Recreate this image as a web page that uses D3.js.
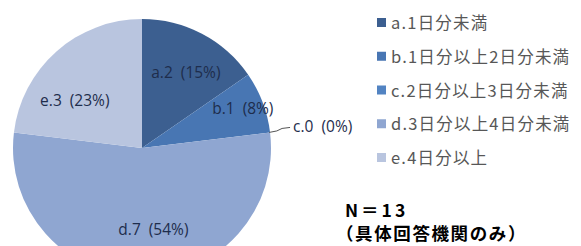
<!DOCTYPE html>
<html>
<head>
<meta charset="utf-8">
<script src="https://cdn.jsdelivr.net/npm/d3@7"></script>
<style>
  body { margin: 0; background: #fff; }
  svg { display: block; }
</style>
</head>
<body>
<div id="graph"></div>
<script>
// chart data
var keys = ["a", "b", "c", "d", "e"];
var counts = [2, 1, 0, 7, 3];
var legendLabels = ["a.1日分未満", "b.1日分以上2日分未満", "c.2日分以上3日分未満", "d.3日分以上4日分未満", "e.4日分以上"];
var colors = ["#3c5f90", "#4876b3", "#5283c2", "#8fa6d1", "#b9c5df"];
var noteLines = ["N＝13", "（具体回答機関のみ）"];

var width = 581, height = 246;
var cx = 142, cy = 148, radius = 129;

var svg = d3.select("#graph")
  .append("svg")
    .attr("width", width)
    .attr("height", height);

var total = d3.sum(counts);
var data = keys.map(function(k, i) {
  return {key: k, value: counts[i], color: colors[i]};
});

var pie = d3.pie()
  .sort(null)
  .value(function(d) { return d.value; });
var arcs = pie(data);

var arc = d3.arc().innerRadius(0).outerRadius(radius);

var g = svg.append("g")
  .attr("transform", "translate(" + cx + "," + cy + ")");

g.selectAll("path")
  .data(arcs)
  .enter()
  .append("path")
    .attr("d", arc)
    .attr("fill", function(d) { return d.data.color; })
    .attr("stroke", "none");

// label placement: angle (deg, clockwise from top) and fraction of radius
var labelPlace = {a: [30, 0.68], b: [68.5, 0.84], d: [172, 0.635], e: [305.5, 0.64]};
var labelFont = "'Open Sans', sans-serif";
function labelText(d) {
  var pct = Math.round(d.data.value / total * 100);
  return d.data.key + "." + d.data.value + "\u00a0\u00a0(" + pct + "%)";
}

arcs.forEach(function(d) {
  if (d.data.value === 0) return;
  var p = labelPlace[d.data.key];
  var ang = p[0] * Math.PI / 180, r = radius * p[1];
  g.append("text")
    .attr("x", Math.sin(ang) * r)
    .attr("y", -Math.cos(ang) * r)
    .attr("text-anchor", "middle")
    .attr("dominant-baseline", "central")
    .style("font-family", labelFont)
    .style("font-size", "15.5px")
    .style("fill", "#1e2d4c")
    .text(labelText(d));
});

// zero slice label with leader line
var zero = arcs[2];
var za = zero.startAngle;
var ex = Math.sin(za) * radius, ey = -Math.cos(za) * radius;
g.append("path")
  .attr("d", "M" + (ex - 1) + "," + ey + " Q" + (ex + 8) + "," + (ey - 1) + " " + (ex + 12) + "," + (ey - 4) + " L" + (ex + 20) + "," + (ey - 5))
  .attr("fill", "none")
  .attr("stroke", "#555")
  .attr("stroke-width", 1);
g.append("text")
  .attr("x", ex + 23)
  .attr("y", ey - 6)
  .attr("dominant-baseline", "central")
  .style("font-family", labelFont)
  .style("font-size", "15.5px")
  .style("fill", "#1e2d4c")
  .text(labelText(zero));

// legend
var legend = svg.append("g").attr("transform", "translate(377,22)");
var rowY = d3.scalePoint().domain(keys).range([0, 135]);
var row = legend.selectAll("g")
  .data(data)
  .enter()
  .append("g")
    .attr("transform", function(d) { return "translate(0," + rowY(d.key) + ")"; });
row.append("rect")
  .attr("x", 0)
  .attr("y", -4)
  .attr("width", 9)
  .attr("height", 9)
  .attr("fill", function(d) { return d.color; });
row.append("text")
  .attr("x", 14)
  .attr("y", 0)
  .attr("dominant-baseline", "central")
  .style("font-family", "'Noto Sans CJK JP', sans-serif")
  .style("font-size", "16.5px")
  .style("letter-spacing", "1.2px")
  .style("fill", "#575757")
  .text(function(d, i) { return legendLabels[i]; });

// sample note
svg.selectAll(".note")
  .data(noteLines)
  .enter()
  .append("text")
    .attr("class", "note")
    .attr("x", function(d, i) { return i === 0 ? 345 : 336; })
    .attr("y", function(d, i) { return 209 + i * 23; })
    .attr("dominant-baseline", "central")
    .style("font-family", "'Noto Sans CJK JP', sans-serif")
    .style("font-weight", "bold")
    .style("font-size", "17.5px")
    .style("letter-spacing", function(d, i) { return i === 0 ? "3px" : "1.6px"; })
    .style("fill", "#000")
    .text(function(d) { return d; });
</script>
</body>
</html>
